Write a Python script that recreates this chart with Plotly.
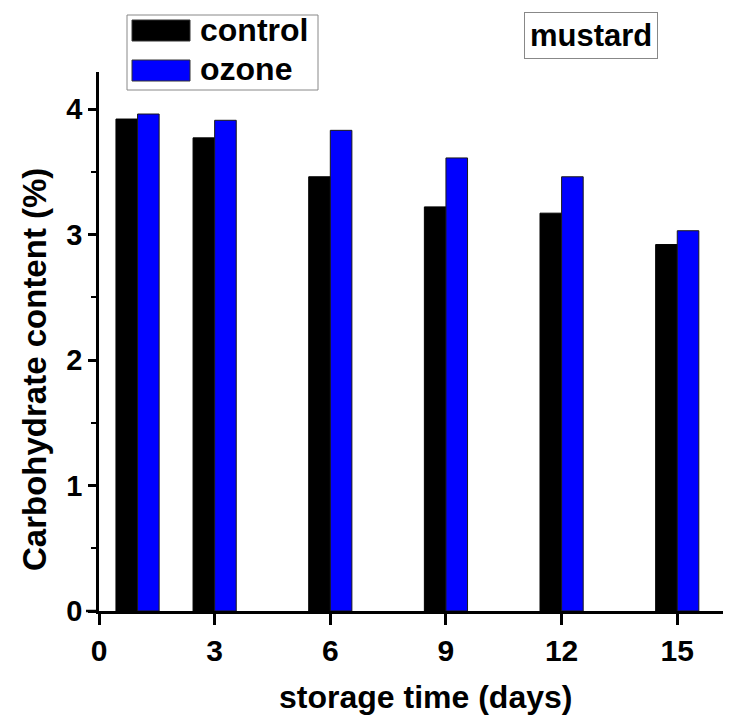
import plotly.graph_objects as go

days = [1, 3, 6, 9, 12, 15]
control = [3.92, 3.77, 3.46, 3.22, 3.17, 2.92]
ozone = [3.96, 3.91, 3.83, 3.61, 3.46, 3.03]
x_ticks = [0, 3, 6, 9, 12, 15]
y_ticks = [0, 1, 2, 3, 4]

# page has an 8px body margin; work in screen pixels and subtract it
OFF = 8
W, H = 731 - OFF, 721 - OFF
AX_L, AX_T, AX_B = 99, 72, 611          # screen px of plot edges
L, T = AX_L - OFF, AX_T - OFF
B = H - (AX_B - OFF)
R = 0
pw, ph = W - L - R, H - T - B

FONT = "Liberation Sans, Arial, sans-serif"
bw = 0.56

fig = go.Figure()
fig.add_trace(go.Bar(x=days, y=control, name="control", width=bw, offset=-bw,
                     marker=dict(color="black", line=dict(color="black", width=1))))
fig.add_trace(go.Bar(x=days, y=ozone, name="ozone", width=bw, offset=0,
                     marker=dict(color="#0000ff", line=dict(color="#1a1a1a", width=1))))

def sx(p):  # screen px -> paper x
    return (p - AX_L) / pw

def sy(p):  # screen px -> paper y
    return (AX_B - p) / ph

shapes = []
annotations = []
shapes.append(dict(type="line", xref="paper", yref="paper", x0=sx(86), x1=0, y0=0, y1=0,
                   line=dict(color="black", width=2.5)))
shapes.append(dict(type="rect", xref="paper", yref="paper", x0=sx(127), x1=sx(318),
                   y0=sy(90), y1=sy(15), line=dict(color="#888888", width=1), fillcolor="white"))
shapes.append(dict(type="rect", xref="paper", yref="paper", x0=sx(132), x1=sx(190),
                   y0=sy(41), y1=sy(20), line=dict(color="#333333", width=1), fillcolor="black"))
shapes.append(dict(type="rect", xref="paper", yref="paper", x0=sx(132), x1=sx(190),
                   y0=sy(81), y1=sy(60), line=dict(color="#333333", width=1), fillcolor="#0000ff"))
annotations.append(dict(text="control", xref="paper", yref="paper", x=sx(198), y=sy(30),
                        xanchor="left", yanchor="middle", showarrow=False,
                        font=dict(family=FONT, size=32, color="black", weight="bold")))
annotations.append(dict(text="ozone", xref="paper", yref="paper", x=sx(198), y=sy(69),
                        xanchor="left", yanchor="middle", showarrow=False,
                        font=dict(family=FONT, size=32, color="black", weight="bold")))
annotations.append(dict(text="mustard", xref="paper", yref="paper", x=sx(591), y=sy(36),
                        xanchor="center", yanchor="middle", showarrow=False,
                        font=dict(family=FONT, size=31, color="black", weight="bold"),
                        bordercolor="#888888", borderwidth=1, borderpad=5, bgcolor="white"))
annotations.append(dict(text="storage time (days)", xref="paper", yref="paper", x=sx(425),
                        y=sy(697), xanchor="center", yanchor="middle", showarrow=False,
                        font=dict(family=FONT, size=32, color="black", weight="bold")))
annotations.append(dict(text="Carbohydrate content (%)", xref="paper", yref="paper", x=sx(34),
                        y=sy(370), xanchor="center", yanchor="middle", showarrow=False, textangle=-90,
                        font=dict(family=FONT, size=33, color="black", weight="bold")))

fig.update_layout(
    width=W, height=H,
    margin=dict(l=L, r=R, t=T, b=B, pad=0),
    paper_bgcolor="white", plot_bgcolor="white",
    showlegend=False,
    barmode="overlay",
    shapes=shapes,
    annotations=annotations,
    font=dict(family=FONT, color="black"),
)
fig.update_xaxes(
    range=[0, pw / 38.55], tickvals=x_ticks, ticktext=[str(v) for v in x_ticks],
    showline=True, linecolor="black", linewidth=2.5, showgrid=False, zeroline=False,
    ticks="outside", ticklen=11, tickwidth=2.5, tickcolor="black",
    tickfont=dict(family=FONT, size=30, color="black", weight="bold"),
)
fig.update_yaxes(
    range=[0, ph / 125.5], tickvals=y_ticks, ticktext=[str(v) for v in y_ticks],
    showline=True, linecolor="black", linewidth=2.5, showgrid=False, zeroline=False,
    ticks="outside", ticklen=8, tickwidth=2.5, tickcolor="black",
    minor=dict(tickvals=[0.5, 1.5, 2.5, 3.5], ticks="outside", ticklen=5, tickwidth=2, tickcolor="black"),
    tickfont=dict(family=FONT, size=29, color="black", weight="bold"),
)

fig.write_html("out.html")
